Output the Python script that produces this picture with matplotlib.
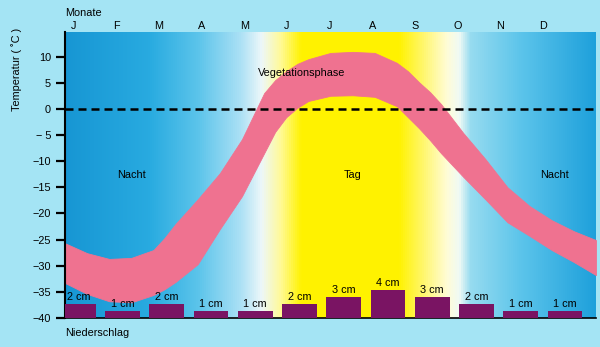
import numpy as np
import matplotlib.pyplot as plt
from matplotlib.colors import LinearSegmentedColormap

# data
months = ['J', 'F', 'M', 'A', 'M', 'J', 'J', 'A', 'S', 'O', 'N', 'D']
precip_cm = [2, 1, 2, 1, 1, 2, 3, 4, 3, 2, 1, 1]
precip_labels = ['%d cm' % p for p in precip_cm]

# temperature band (deg C), read every half month (quarter month where it bends)
band_month = [0, 0.5, 1, 1.5, 2, 2.25, 2.5, 3, 3.5, 4, 4.5, 4.75, 5, 5.25, 5.5, 6,
              6.5, 7, 7.5, 7.75, 8, 8.25, 8.5, 9, 9.5, 10, 10.5, 11, 11.5, 12]
band_upper = [-25.7, -27.6, -28.7, -28.5, -27.0, -24.7, -22.0, -17.3, -12.3, -5.8, 3.0, 5.5, 7.2, 8.6, 9.5, 10.7,
              10.9, 10.7, 8.8, 7.2, 5.1, 3.2, 0.9, -4.6, -9.6, -15.0, -18.6, -21.3, -23.4, -25.1]
band_lower = [-33.3, -35.4, -36.8, -37.0, -35.6, -34.5, -33.1, -29.7, -23.0, -16.7, -8.5, -4.4, -1.6, 0.2, 1.5, 2.5,
              2.6, 2.3, 0.5, -1.6, -3.7, -6.0, -8.5, -13.0, -17.3, -21.7, -24.3, -27.0, -29.3, -31.8]

yticks = [10, 5, 0, -5, -10, -15, -20, -25, -30, -35, -40]
ytick_labels = ['10', '5', '0', '\u2212 5', '\u221210', '\u221215', '\u221220',
                '\u221225', '\u221230', '\u221235', '\u221240']

plt.rcParams['font.family'] = ['Liberation Sans', 'DejaVu Sans']

fig = plt.figure(figsize=(6, 3.47), dpi=100)
fig.patch.set_facecolor('#a4e4f4')
ax = fig.add_axes([0.1083, 0.0836, 0.885, 0.8242])

# background: blue in winter, yellow in summer (night / day)
bg = LinearSegmentedColormap.from_list('season', [
    (0.00, (0.09, 0.59, 0.83)),
    (0.16, (0.16, 0.67, 0.88)),
    (0.25, (0.36, 0.77, 0.92)),
    (0.33, (0.67, 0.88, 0.96)),
    (0.37, (0.93, 0.97, 0.98)),
    (0.405, (1.00, 0.98, 0.60)),
    (0.445, (1.00, 0.95, 0.00)),
    (0.63, (1.00, 0.95, 0.00)),
    (0.68, (1.00, 0.97, 0.47)),
    (0.72, (1.00, 0.99, 0.84)),
    (0.744, (0.94, 0.98, 0.96)),
    (0.765, (0.59, 0.86, 0.94)),
    (0.86, (0.36, 0.77, 0.92)),
    (1.00, (0.12, 0.63, 0.86)),
])
grad = np.linspace(0, 1, 512).reshape(1, -1)
ax.imshow(grad, extent=[0, 12, -40, 14.7], aspect='auto', cmap=bg, zorder=0)

# temperature band
ax.fill_between(band_month, band_lower, band_upper, color='#ef7290', lw=0.6,
                edgecolor='#ef7290', zorder=1)

# zero line
ax.axhline(0, color='black', lw=1.8, linestyle=(0, (3.2, 2)), zorder=2)

# precipitation bars
x_bar = np.arange(12) + 0.3
scale = 1.33  # temperature units per cm
ax.bar(x_bar, [p * scale for p in precip_cm], width=0.79, bottom=-40,
       color='#7a1463', zorder=3)
for xb, p, lab in zip(x_bar, precip_cm, precip_labels):
    ax.text(xb, -40 + p * scale + 0.4, lab, ha='center', va='bottom', fontsize=7.8, zorder=4)

ax.set_xlim(0, 12)
ax.set_ylim(-40, 14.7)

# axes styling
ax.set_yticks(yticks)
ax.set_yticklabels(ytick_labels, fontsize=7.8)
ax.tick_params(axis='y', length=6.5, width=1.6, pad=3.5)
ax.set_xticks([])
for s in ['top', 'right']:
    ax.spines[s].set_visible(False)
ax.spines['left'].set_linewidth(1.5)
ax.spines['bottom'].set_linewidth(1.2)

# month letters above the plot
for i, m in enumerate(months):
    ax.text(0.2 + 0.963 * i, 14.9, m, ha='center', va='bottom', fontsize=7.8)

# labels
fig.text(0.1083, 0.962, 'Monate', ha='left', va='center', fontsize=7.8)
fig.text(0.1083, 0.04, 'Niederschlag', ha='left', va='center', fontsize=7.8)
fig.text(0.028, 0.80, 'Temperatur ( \u02daC )', rotation=90, ha='center', va='center', fontsize=7.8)
ax.text(5.35, 6.8, 'Vegetationsphase', ha='center', va='center', fontsize=7.8, zorder=4)
ax.text(1.5, -12.6, 'Nacht', ha='center', va='center', fontsize=7.8)
ax.text(6.5, -12.6, 'Tag', ha='center', va='center', fontsize=7.8)
ax.text(11.07, -12.6, 'Nacht', ha='center', va='center', fontsize=7.8)

fig.savefig('out.png', dpi=100, facecolor=fig.get_facecolor())
